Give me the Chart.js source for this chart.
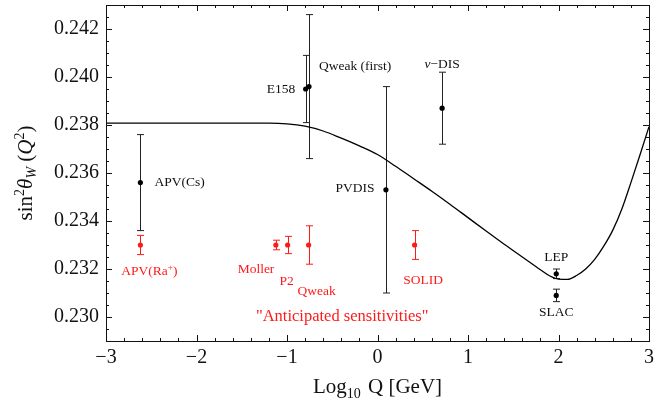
<!DOCTYPE html>
<html><head><meta charset="utf-8">
<script src="https://cdn.jsdelivr.net/npm/chart.js@4/dist/chart.umd.min.js"></script>
<style>html,body{margin:0;padding:0;background:#fff}#wrap{width:672px;height:400px}</style>
</head><body><div id="wrap"><canvas id="c" width="672" height="400"></canvas></div>
<script>
// ---- data ----
const curveX = [-3, -2, -1.5, -1.2, -1.0, -0.8, -0.6, -0.4, -0.2, 0, 0.2, 0.4, 0.6, 0.8, 1.0, 1.2, 1.4, 1.6, 1.8, 1.9, 2.0, 2.1, 2.2, 2.3, 2.4, 2.5, 2.6, 2.7, 2.8, 2.9, 3.0];
const curveY = [0.23808, 0.23808, 0.23808, 0.23808, 0.23805, 0.23795, 0.23775, 0.23745, 0.23713, 0.23677, 0.23628, 0.23576, 0.23524, 0.23470, 0.23414, 0.23358, 0.23303, 0.23250, 0.23197, 0.23172, 0.23158, 0.23157, 0.23173, 0.23200, 0.23240, 0.23295, 0.23362, 0.23450, 0.23560, 0.23675, 0.23793];

const measLabels = ["APV(Cs)", "E158", "Qweak (first)", "PVDIS", "\u03BD\u2212DIS", "LEP", "SLAC"];
const measX   = [-2.62, -0.794, -0.757, 0.093, 0.714, 1.975, 1.975];
const measY   = [0.2356, 0.2395, 0.2396, 0.2353, 0.2387, 0.2318, 0.2309];
const measErr = [0.0020, 0.0014, 0.0030, 0.0043, 0.0015, 0.0002, 0.00026];

const futLabels = ["APV(Ra+)", "Moller", "P2", "Qweak", "SOLID"];
const futX   = [-2.62, -1.123, -0.993, -0.761, 0.41];
const futY   = [0.2330, 0.2330, 0.2330, 0.2330, 0.2330];
const futErr = [0.0004, 0.0002, 0.00036, 0.0008, 0.0006];

const noteText = "\"Anticipated sensitivities\"";
const notePos = {x: -0.39, y: 0.2300};

const xTickValues = [-3, -2, -1, 0, 1, 2, 3];
const yTickValues = [0.230, 0.232, 0.234, 0.236, 0.238, 0.240, 0.242];

// ---- layout / style constants ----
const SERIF = '"Liberation Serif", "Times New Roman", serif';
const RED = '#ff1a1a';
const measLabelOff = [[14, 0, 'left'], [-10.5, 0, 'right'], [10, -20.5, 'left'], [-11.5, -1.5, 'right'], [0, -44.5, 'center'], [0, -16, 'center'], [0, 17, 'center']];
const futLabelOff = [[9, 25, 'center'], [-1.5, 24.5, 'right'], [-1, 36, 'center'], [8, 46.5, 'center'], [8.5, 35, 'center']];

function drawRuns(ctx, runs, x, y, align, rotate) {
  ctx.save();
  ctx.translate(x, y);
  if (rotate) ctx.rotate(-Math.PI / 2);
  let total = 0;
  for (const r of runs) { ctx.font = r.f; total += ctx.measureText(r.t).width + (r.gap || 0); }
  let cx = align === 'center' ? -total / 2 : align === 'right' ? -total : 0;
  ctx.textBaseline = 'alphabetic'; ctx.textAlign = 'left';
  for (const r of runs) { ctx.font = r.f; ctx.fillText(r.t, cx, r.dy || 0); cx += ctx.measureText(r.t).width + (r.gap || 0); }
  ctx.restore();
}

const decorPlugin = {
  id: 'decor',
  beforeDatasetsDraw(chart) {
    const ctx = chart.ctx, xs = chart.scales.x, ys = chart.scales.y;
    const bars = (X, Y, E, col) => {
      ctx.save(); ctx.strokeStyle = col; ctx.lineWidth = 1;
      for (let i = 0; i < X.length; i++) {
        const px = Math.round(xs.getPixelForValue(X[i])) + 0.5;
        const t = ys.getPixelForValue(Y[i] + E[i]), b = ys.getPixelForValue(Y[i] - E[i]);
        ctx.beginPath();
        ctx.moveTo(px, t); ctx.lineTo(px, b);
        ctx.moveTo(px - 3.5, t); ctx.lineTo(px + 3.5, t);
        ctx.moveTo(px - 3.5, b); ctx.lineTo(px + 3.5, b);
        ctx.stroke();
      }
      ctx.restore();
    };
    bars(measX, measY, measErr, '#222');
    bars(futX, futY, futErr, RED);
  },
  afterDraw(chart) {
    const ctx = chart.ctx, xs = chart.scales.x, ys = chart.scales.y, a = chart.chartArea;
    ctx.save();
    // frame
    ctx.strokeStyle = '#111'; ctx.lineWidth = 1;
    ctx.strokeRect(Math.round(a.left) + 0.5, Math.round(a.top) + 0.5, Math.round(a.right - a.left), Math.round(a.bottom - a.top));
    // inward ticks
    ctx.beginPath();
    for (let i = -15; i <= 15; i++) {
      const px = Math.round(xs.getPixelForValue(i / 5)) + 0.5;
      const len = (i % 5 === 0) ? 6 : 3;
      ctx.moveTo(px, a.bottom); ctx.lineTo(px, a.bottom - len);
      ctx.moveTo(px, a.top); ctx.lineTo(px, a.top + len);
    }
    for (let i = 458; i <= 486; i++) {
      const py = Math.round(ys.getPixelForValue(i * 0.0005)) + 0.5;
      const len = (i % 4 === 0) ? 6 : 3;
      ctx.moveTo(a.left, py); ctx.lineTo(a.left + len, py);
      ctx.moveTo(a.right, py); ctx.lineTo(a.right - len, py);
    }
    ctx.stroke();

    // point labels
    ctx.fillStyle = '#111';
    ctx.font = '13.5px ' + SERIF;
    ctx.textBaseline = 'middle';
    for (let i = 0; i < measLabels.length; i++) {
      const px = xs.getPixelForValue(measX[i]), py = ys.getPixelForValue(measY[i]);
      const o = measLabelOff[i];
      if (i === 4) {
        drawRuns(ctx, [{t: '\u03BD', f: 'italic 13.5px ' + SERIF}, {t: '\u2212DIS', f: '13.5px ' + SERIF}], px + o[0], py + o[1] + 4.5, 'center');
      } else {
        ctx.font = '13.5px ' + SERIF; ctx.textBaseline = 'middle';
        ctx.textAlign = o[2];
        ctx.fillText(measLabels[i], px + o[0], py + o[1]);
      }
    }
    ctx.fillStyle = RED;
    for (let i = 0; i < futLabels.length; i++) {
      const px = xs.getPixelForValue(futX[i]), py = ys.getPixelForValue(futY[i]);
      const o = futLabelOff[i];
      if (i === 0) {
        drawRuns(ctx, [{t: 'APV(Ra', f: '13.5px ' + SERIF}, {t: '+', f: '9px ' + SERIF, dy: -5}, {t: ')', f: '13.5px ' + SERIF}], px + o[0], py + o[1] + 4.5, 'center');
      } else {
        ctx.font = '13.5px ' + SERIF; ctx.textBaseline = 'middle';
        ctx.textAlign = o[2];
        ctx.fillText(futLabels[i], px + o[0], py + o[1]);
      }
    }
    ctx.font = '16.5px ' + SERIF; ctx.textAlign = 'center'; ctx.textBaseline = 'middle';
    ctx.fillText(noteText, xs.getPixelForValue(notePos.x), ys.getPixelForValue(notePos.y));

    // axis titles
    ctx.fillStyle = '#111';
    const cxm = (a.left + a.right) / 2;
    drawRuns(ctx, [
      {t: 'Log', f: '21px ' + SERIF},
      {t: '10', f: '14px ' + SERIF, dy: 5, gap: 2},
      {t: ' Q [GeV]', f: '21px ' + SERIF}
    ], cxm, 393, 'center');
    const cym = (a.top + a.bottom) / 2;
    drawRuns(ctx, [
      {t: 'sin', f: '21px ' + SERIF},
      {t: '2', f: '14px ' + SERIF, dy: -8},
      {t: '\u03B8', f: 'italic 21px ' + SERIF},
      {t: 'W', f: 'italic 14px ' + SERIF, dy: 4},
      {t: ' (', f: '21px ' + SERIF},
      {t: 'Q', f: 'italic 21px ' + SERIF},
      {t: '2', f: '14px ' + SERIF, dy: -8},
      {t: ')', f: '21px ' + SERIF}
    ], 32, cym, 'center', true);
    ctx.restore();
  }
};

new Chart(document.getElementById('c'), {
  type: 'scatter',
  data: {
    datasets: [
      {
        label: 'running', showLine: true,
        data: curveX.map((x, i) => ({x: x, y: curveY[i]})),
        borderColor: '#000', borderWidth: 1.3, pointRadius: 0,
        cubicInterpolationMode: 'monotone', fill: false, order: 2
      },
      {
        label: 'measured',
        data: measX.map((x, i) => ({x: x, y: measY[i]})),
        backgroundColor: '#000', borderWidth: 0, pointRadius: 2.6, order: 1
      },
      {
        label: 'anticipated',
        data: futX.map((x, i) => ({x: x, y: futY[i]})),
        backgroundColor: RED, borderWidth: 0, pointRadius: 2.6, order: 1
      }
    ]
  },
  options: {
    responsive: false, animation: false, devicePixelRatio: 1,
    layout: {padding: {top: 5, right: 23, left: 0, bottom: 0}},
    plugins: {legend: {display: false}, tooltip: {enabled: false}},
    scales: {
      x: {
        type: 'linear', min: -3, max: 3,
        afterBuildTicks: s => { s.ticks = xTickValues.map(v => ({value: v})); },
        afterFit: s => { s.height = 59; s.paddingLeft = 0; s.paddingRight = 0; },
        grid: {display: false, drawTicks: false}, border: {display: false},
        ticks: {
          color: '#111', font: {family: SERIF, size: 20}, padding: 5,
          maxRotation: 0, autoSkip: false,
          callback: v => v < 0 ? '\u2212' + Math.abs(v) : String(v)
        }
      },
      y: {
        type: 'linear', min: 0.229, max: 0.243,
        afterBuildTicks: s => { s.ticks = yTickValues.map(v => ({value: v})); },
        afterFit: s => { s.width = 106; s.paddingTop = 0; s.paddingBottom = 0; },
        grid: {display: false, drawTicks: false}, border: {display: false},
        ticks: {
          color: '#111', font: {family: SERIF, size: 20}, padding: 7,
          autoSkip: false,
          callback: v => Number(v).toFixed(3)
        }
      }
    }
  },
  plugins: [decorPlugin]
});
</script>
</body></html>
